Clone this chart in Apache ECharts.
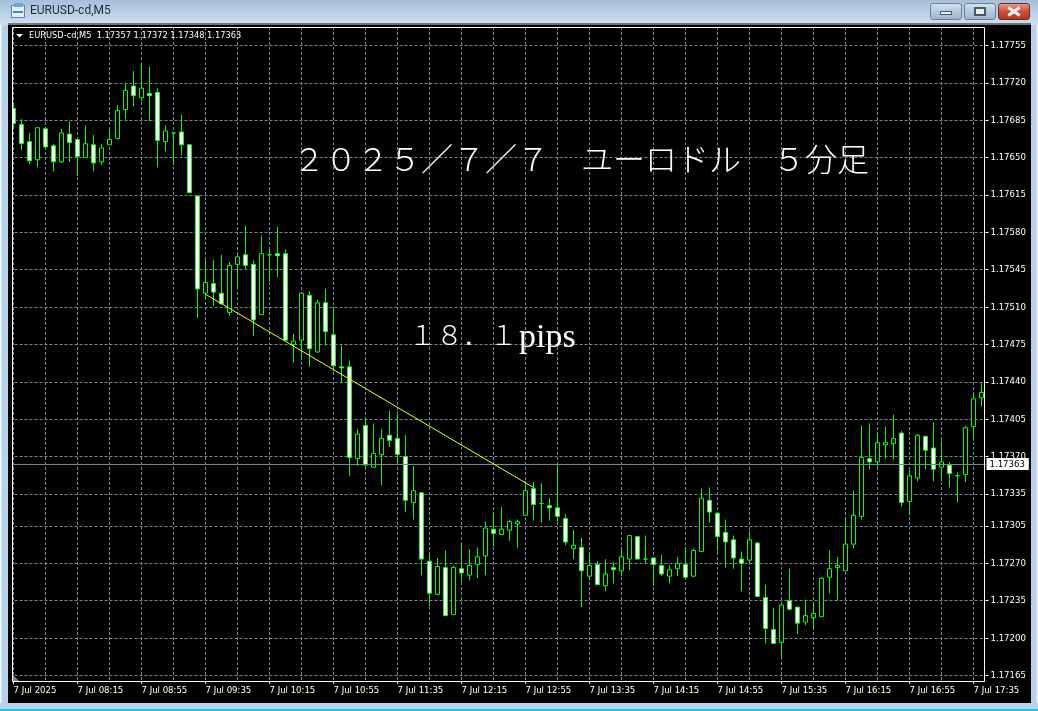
<!DOCTYPE html>
<html><head><meta charset="utf-8">
<style>
html,body{margin:0;padding:0;width:1038px;height:711px;overflow:hidden;background:#c4d8ec}
.a{position:absolute}
#chart{position:absolute;left:0;top:0;width:1038px;height:711px}
</style>
<script src="https://cdn.jsdelivr.net/npm/echarts@6/dist/echarts.min.js"></script>
</head><body>
<div class="a" style="left:0;top:0;width:1038px;height:25px;background:linear-gradient(#a6bfd9,#c2d6ea 70%,#cfdfef)"></div>
<div class="a" style="left:0;top:25px;width:8px;height:680px;background:linear-gradient(90deg,#f4f8fc 0,#f4f8fc 1px,#b9d1ea 2px,#b9d1ea 8px)"></div>
<div class="a" style="left:1031px;top:25px;width:7px;height:680px;background:linear-gradient(90deg,#b9d1ea 0,#b9d1ea 5px,#eef4fa 6px)"></div>
<div class="a" style="left:0;top:703px;width:1038px;height:6px;background:#b9d1ea"></div>
<div class="a" style="left:0;top:709px;width:1038px;height:2px;background:#1cc7e6"></div>
<div class="a" style="left:8px;top:23px;width:1023px;height:680px;background:#000;border-top:2px solid #6f7478;box-sizing:border-box"></div>
<div class="a" style="left:11px;top:5px;width:14px;height:13px;background:#e6f0fa;border:1px solid #4d86c4;box-sizing:border-box"></div>
<div class="a" style="left:14px;top:3px;width:9px;height:4px;background:#6fa3da"></div>
<div class="a" style="left:13px;top:11px;width:10px;height:2px;background:#4d86c4"></div>
<div class="a" style="left:930px;top:3px;width:32px;height:17px;box-sizing:border-box;border:1px solid #6a7f96;border-radius:3px;background:linear-gradient(#d3e0ed,#b5c9dd 50%,#9db6cf)"></div>
<div class="a" style="left:940px;top:11px;width:12px;height:4px;background:#e9eef3;border:1px solid #4a5968;box-sizing:border-box"></div>
<div class="a" style="left:964px;top:3px;width:32px;height:17px;box-sizing:border-box;border:1px solid #6a7f96;border-radius:3px;background:linear-gradient(#d3e0ed,#b5c9dd 50%,#9db6cf)"></div>
<div class="a" style="left:974px;top:7px;width:12px;height:9px;background:#e9eef3;border:2px solid #4a5968;box-sizing:border-box"></div>
<div class="a" style="left:998px;top:3px;width:32px;height:17px;box-sizing:border-box;border:1px solid #6b2a2a;border-radius:3px;background:linear-gradient(#e59a8b,#c9503a 50%,#b23a26)"></div>
<div class="a" style="left:1007px;top:10px;width:14px;height:3px;background:#f2efe9;transform:rotate(35deg)"></div>
<div class="a" style="left:1007px;top:10px;width:14px;height:3px;background:#f2efe9;transform:rotate(-35deg)"></div>
<div id="chart"></div>
<script>
var categories = ["7 Jul 2025","07:40","07:45","07:50","07:55","08:00","08:05","08:10","7 Jul 08:15","08:20","08:25","08:30","08:35","08:40","08:45","08:50","7 Jul 08:55","09:00","09:05","09:10","09:15","09:20","09:25","09:30","7 Jul 09:35","09:40","09:45","09:50","09:55","10:00","10:05","10:10","7 Jul 10:15","10:20","10:25","10:30","10:35","10:40","10:45","10:50","7 Jul 10:55","11:00","11:05","11:10","11:15","11:20","11:25","11:30","7 Jul 11:35","11:40","11:45","11:50","11:55","12:00","12:05","12:10","7 Jul 12:15","12:20","12:25","12:30","12:35","12:40","12:45","12:50","7 Jul 12:55","13:00","13:05","13:10","13:15","13:20","13:25","13:30","7 Jul 13:35","13:40","13:45","13:50","13:55","14:00","14:05","14:10","7 Jul 14:15","14:20","14:25","14:30","14:35","14:40","14:45","14:50","7 Jul 14:55","15:00","15:05","15:10","15:15","15:20","15:25","15:30","7 Jul 15:35","15:40","15:45","15:50","15:55","16:00","16:05","16:10","7 Jul 16:15","16:20","16:25","16:30","16:35","16:40","16:45","16:50","7 Jul 16:55","17:00","17:05","17:10","17:15","17:20","17:25","17:30","7 Jul 17:35","17:40"];
var opens = [1.17696,1.17681,1.17665,1.17648,1.17677,1.17661,1.17646,1.17672,1.17667,1.17650,
1.17662,1.17646,1.17662,1.17668,1.17695,1.17717,1.17706,1.17710,1.17711,1.17665,
1.17673,1.17674,1.17662,1.17614,1.17523,1.17532,1.17523,1.17505,1.17550,1.17559,
1.17550,1.17503,1.17559,1.17560,1.17560,1.17475,1.17479,1.17521,1.17468,1.17514,
1.17484,1.17454,1.17454,1.17368,1.17399,1.17360,1.17372,1.17390,1.17387,1.17370,
1.17327,1.17336,1.17272,1.17241,1.17266,1.17222,1.17265,1.17259,1.17269,1.17277,
1.17302,1.17297,1.17301,1.17307,1.17315,1.17340,1.17326,1.17324,1.17322,1.17312,
1.17284,1.17285,1.17258,1.17269,1.17249,1.17266,1.17263,1.17274,1.17295,1.17274,
1.17275,1.17268,1.17258,1.17265,1.17269,1.17258,1.17281,1.17329,1.17317,1.17299,
1.17292,1.17274,1.17273,1.17289,1.17238,1.17208,1.17196,1.17235,1.17229,1.17215,
1.17219,1.17220,1.17257,1.17266,1.17263,1.17288,1.17314,1.17368,1.17365,1.17381,
1.17382,1.17392,1.17328,1.17350,1.17389,1.17378,1.17360,1.17362,1.17352,1.17353,
1.17398,1.17425];
var closes = [1.17682,1.17663,1.17647,1.17678,1.17660,1.17646,1.17673,1.17664,1.17651,1.17663,
1.17645,1.17659,1.17667,1.17694,1.17713,1.17708,1.17715,1.17708,1.17666,1.17675,
1.17673,1.17662,1.17617,1.17527,1.17533,1.17524,1.17513,1.17549,1.17557,1.17549,
1.17498,1.17560,1.17559,1.17558,1.17479,1.17478,1.17523,1.17471,1.17514,1.17487,
1.17455,1.17453,1.17369,1.17391,1.17362,1.17373,1.17387,1.17385,1.17372,1.17329,
1.17338,1.17274,1.17242,1.17267,1.17221,1.17266,1.17261,1.17268,1.17276,1.17303,
1.17298,1.17302,1.17309,1.17309,1.17338,1.17325,1.17326,1.17322,1.17314,1.17290,
1.17287,1.17263,1.17268,1.17250,1.17260,1.17264,1.17276,1.17296,1.17274,1.17274,
1.17269,1.17260,1.17264,1.17270,1.17257,1.17282,1.17331,1.17318,1.17295,1.17290,
1.17275,1.17270,1.17292,1.17239,1.17209,1.17195,1.17231,1.17227,1.17214,1.17221,
1.17223,1.17256,1.17265,1.17268,1.17288,1.17315,1.17369,1.17365,1.17383,1.17383,
1.17387,1.17327,1.17352,1.17390,1.17376,1.17358,1.17365,1.17354,1.17352,1.17397,
1.17424,1.17430];
var lows = [1.17678,1.17657,1.17644,1.17641,1.17659,1.17637,1.17645,1.17646,1.17633,1.17650,
1.17637,1.17643,1.17662,1.17667,1.17686,1.17698,1.17703,1.17684,1.17641,1.17656,
1.17644,1.17652,1.17617,1.17500,1.17517,1.17511,1.17513,1.17502,1.17528,1.17546,
1.17483,1.17503,1.17534,1.17538,1.17479,1.17458,1.17461,1.17454,1.17467,1.17474,
1.17450,1.17439,1.17352,1.17361,1.17359,1.17360,1.17343,1.17379,1.17362,1.17318,
1.17311,1.17259,1.17230,1.17240,1.17221,1.17222,1.17253,1.17254,1.17256,1.17259,
1.17286,1.17297,1.17291,1.17284,1.17315,1.17310,1.17308,1.17310,1.17309,1.17287,
1.17274,1.17229,1.17254,1.17250,1.17244,1.17251,1.17258,1.17264,1.17274,1.17270,
1.17249,1.17258,1.17251,1.17258,1.17257,1.17257,1.17281,1.17308,1.17281,1.17266,
1.17265,1.17244,1.17271,1.17238,1.17195,1.17195,1.17182,1.17226,1.17204,1.17212,
1.17208,1.17220,1.17242,1.17235,1.17263,1.17284,1.17311,1.17358,1.17360,1.17368,
1.17367,1.17323,1.17315,1.17347,1.17358,1.17347,1.17347,1.17341,1.17327,1.17346,
1.17385,1.17417];
var highs = [1.17701,1.17686,1.17673,1.17678,1.17679,1.17663,1.17677,1.17684,1.17667,1.17680,
1.17671,1.17663,1.17676,1.17699,1.17720,1.17731,1.17738,1.17735,1.17715,1.17680,
1.17674,1.17690,1.17663,1.17614,1.17554,1.17554,1.17559,1.17552,1.17560,1.17586,
1.17554,1.17577,1.17564,1.17585,1.17564,1.17485,1.17523,1.17525,1.17517,1.17527,
1.17510,1.17474,1.17460,1.17396,1.17406,1.17401,1.17396,1.17413,1.17412,1.17390,
1.17361,1.17337,1.17278,1.17275,1.17282,1.17268,1.17289,1.17283,1.17285,1.17309,
1.17317,1.17323,1.17311,1.17311,1.17347,1.17346,1.17345,1.17331,1.17362,1.17316,
1.17301,1.17294,1.17279,1.17272,1.17274,1.17271,1.17283,1.17296,1.17295,1.17296,
1.17275,1.17278,1.17268,1.17276,1.17285,1.17284,1.17340,1.17341,1.17317,1.17311,
1.17296,1.17281,1.17300,1.17290,1.17250,1.17228,1.17231,1.17265,1.17229,1.17236,
1.17234,1.17257,1.17282,1.17276,1.17313,1.17338,1.17399,1.17401,1.17392,1.17398,
1.17409,1.17394,1.17357,1.17391,1.17389,1.17402,1.17385,1.17365,1.17355,1.17399,
1.17429,1.17439];
var priceTicks = [1.17165,1.17200,1.17235,1.17270,1.17305,1.17335,1.17370,1.17405,1.17440,1.17475,1.17510,1.17545,1.17580,1.17615,1.17650,1.17685,1.17720,1.17755];
var bidPrice = 1.17363;
var trendStart = {index: 24, price: 1.17522};
var trendEnd = {index: 65, price: 1.17341};
var windowTitle = "EURUSD-cd,M5";
var statusText = "EURUSD-cd,M5  1.17357 1.17372 1.17348 1.17363";
var noteTitle = "２０２５／７／７　ユーロドル　５分足";
var notePipsFull = "１８．１";
var notePipsUnit = "pips";

var candleData = opens.map(function(o,i){ return [o, closes[i], lows[i], highs[i]]; });
var uiFont = '"DejaVu Sans Condensed", "Liberation Sans", sans-serif';
var uiSize = 9.5;
var gridColor = '#778899';
var chart = echarts.init(document.getElementById('chart'), null, {renderer:'canvas'});
chart.setOption({
  animation:false,
  backgroundColor:'transparent',
  grid:{left:9.5, top:27, width:976, height:654, containLabel:false},
  xAxis:{
    type:'category', data:categories, boundaryGap:true,
    axisLine:{show:false},
    axisTick:{show:true, interval:7, alignWithLabel:true, length:3, lineStyle:{color:'#fff'}},
    axisLabel:{show:true, interval:7, align:'left', margin:5, color:'#fff', fontFamily:uiFont, fontSize:uiSize,
      formatter:function(v){ return v; }},
    splitLine:{show:true, interval:3, alignWithLabel:true, lineStyle:{color:gridColor, type:[3,2], width:1}}
  },
  yAxis:{
    type:'value', position:'right', min:1.171598, max:1.177723, scale:true,
    axisLine:{show:false},
    axisTick:{show:true, length:3, inside:false, customValues:priceTicks, lineStyle:{color:'#fff'}},
    axisLabel:{show:true, margin:5, color:'#fff', fontFamily:uiFont, fontSize:uiSize, customValues:priceTicks,
      formatter:function(v){ return v.toFixed(5); }},
    splitLine:{show:true, lineStyle:{color:gridColor, type:[3,2], width:1}}
  },
  series:[{
    type:'candlestick', data:candleData, barWidth:4, clip:false,
    itemStyle:{color:'#000000', color0:'#ffffff', borderColor:'#00ff00', borderColor0:'#00ff00', borderColorDoji:'#00ff00', borderWidth:1},
    markLine:{
      silent:true, symbol:['none','none'], animation:false, precision:5,
      data:[
        {yAxis:bidPrice, lineStyle:{color:gridColor, width:1, type:'solid'},
          label:{show:true, position:'end', distance:1, formatter:bidPrice.toFixed(5), color:'#000', backgroundColor:'#fff', padding:[1,4,1,3], fontFamily:uiFont, fontSize:uiSize}},
        [{coord:[trendStart.index, trendStart.price], lineStyle:{color:'#ffff00', width:1, type:'solid'}, label:{show:false}},
         {coord:[trendEnd.index, trendEnd.price]}]
      ]
    }
  }],
  graphic:[
    {type:'rect', z:90, silent:true, shape:{x:9,y:25,width:3,height:677}, style:{fill:'#000'}},
    {type:'rect', z:91, silent:true, shape:{x:12.5,y:27.5,width:972,height:654}, style:{fill:'none', stroke:'#fff', lineWidth:1}},
    {type:'polygon', z:92, silent:true, shape:{points:[[13,675],[19,681],[13,681]]}, style:{fill:'#7d8796'}},
    {type:'polygon', z:92, silent:true, shape:{points:[[16,34],[23,34],[19.5,37.5]]}, style:{fill:'#fff'}},
    {type:'text', z:92, silent:true, style:{x:30,y:11, text:windowTitle, fill:'#1e2a36', font:'12px Roboto, sans-serif', verticalAlign:'middle', align:'left'}},
    {type:'text', z:92, silent:true, style:{x:29,y:35.5, text:statusText, fill:'#fff', font:'9.2px '+uiFont, verticalAlign:'middle', align:'left'}},
    {type:'text', z:92, silent:true, style:{x:293,y:159, text:noteTitle, fill:'#fff', font:'300 32px "Noto Sans CJK JP", serif', verticalAlign:'middle', align:'left'}},
    {type:'text', z:92, silent:true, style:{x:409,y:335, text:notePipsFull, fill:'#fff', font:'300 27px "Noto Sans CJK JP", serif', verticalAlign:'middle', align:'left'}},
    {type:'text', z:92, silent:true, style:{x:519,y:338, text:notePipsUnit, fill:'#fff', font:'34px "Liberation Serif", serif', verticalAlign:'middle', align:'left'}}
  ]
});
</script>
</body></html>
